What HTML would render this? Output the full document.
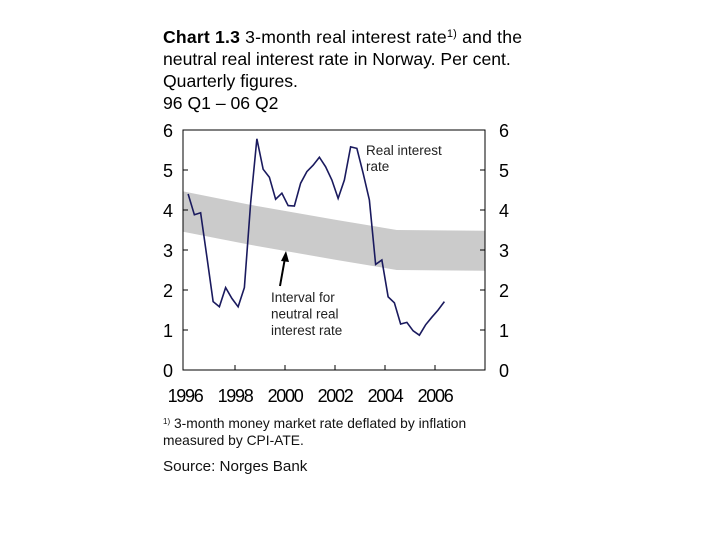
<!DOCTYPE html>
<html><head><meta charset="utf-8"><style>
body{margin:0;background:#fff;}
svg{display:block;font-family:"Liberation Sans",Arial,sans-serif;}
</style></head><body>
<svg id="chart" width="720" height="540">
<text x="163" y="43" font-size="17.6" textLength="359"><tspan font-weight="bold">Chart 1.3</tspan> 3-month real interest rate<tspan font-size="11" dy="-6">1)</tspan><tspan dy="6"> and the</tspan></text>
<text x="163" y="65" font-size="17.6">neutral real interest rate in Norway. Per cent.</text>
<text x="163" y="87" font-size="17.6">Quarterly figures.</text>
<text x="163" y="109" font-size="17.6">96 Q1 – 06 Q2</text>
<g id="plot"></g>
<text x="163" y="428" font-size="13.8" fill="#111"><tspan font-size="8" dy="-4">1)</tspan><tspan dy="4"> 3-month money market rate deflated by inflation</tspan></text>
<text x="163" y="445" font-size="13.8" fill="#111">measured by CPI-ATE.</text>
<text x="163" y="471" font-size="15.2" fill="#111">Source: Norges Bank</text>
</svg>
<script>
const rateValues=[4.40,3.88,3.93,2.83,1.71,1.58,2.06,1.79,1.58,2.06,4.17,5.78,5.02,4.82,4.27,4.42,4.11,4.10,4.67,4.96,5.12,5.32,5.08,4.75,4.29,4.75,5.58,5.54,4.92,4.25,2.64,2.75,1.83,1.68,1.15,1.19,0.98,0.87,1.13,1.32,1.50,1.71];
const bandYears=[1995.9,1998.6,2002.07,2004.47,2008.0];
const bandUpper=[4.47,4.13,3.75,3.50,3.48];
const bandLower=[3.46,3.13,2.75,2.50,2.48];
const yTicks=[0,1,2,3,4,5,6];
const xTickYears=[1996,1998,2000,2002,2004,2006];
const startYear=1996.125;

const NS="http://www.w3.org/2000/svg";
const g=document.getElementById('plot');
const L=183,R=485,T=130,B=370;
const xs=t=>185+(t-1996)*25;
const ys=v=>B-(v/6)*(B-T);
function mk(tag,attrs){const e=document.createElementNS(NS,tag);for(const k in attrs)e.setAttribute(k,attrs[k]);g.appendChild(e);return e;}

let pts=bandYears.map((t,i)=>xs(t)+','+ys(bandUpper[i]));
for(let i=bandYears.length-1;i>=0;i--)pts.push(xs(bandYears[i])+','+ys(bandLower[i]));
const band=mk('polygon',{points:pts.join(' '),fill:'#cbcbcb'});



const frame=mk('rect',{x:L,y:T,width:R-L,height:B-T,fill:'none',stroke:'#000','stroke-width':1});



yTicks.forEach(v=>{
  const y=ys(v);
  if(v>0&&v<6){mk('line',{x1:L,x2:L+5,y1:y,y2:y,stroke:'#000'});mk('line',{x1:R-5,x2:R,y1:y,y2:y,stroke:'#000'});}
  const tl=mk('text',{x:163,y:y+7,'font-size':18});tl.textContent=v;
  
  
  const tr=mk('text',{x:499,y:y+7,'font-size':18});tr.textContent=v;
  
  
});
xTickYears.forEach(yr=>{
  const x=xs(yr);
  if(x>L+2)mk('line',{x1:x,x2:x,y1:B-5,y2:B,stroke:'#000'});
  const t=mk('text',{x:x,y:402,'font-size':18,'text-anchor':'middle','letter-spacing':'-1.3'});t.textContent=yr;
  
  
});

const line=mk('polyline',{points:rateValues.map((v,i)=>xs(startYear+i/4)+','+ys(v)).join(' '),fill:'none',stroke:'#1a1a5e','stroke-width':1.6});



const l1=mk('text',{x:366,y:155,'font-size':13.5,fill:'#222'});l1.textContent='Real interest';


const l2=mk('text',{x:366,y:171,'font-size':13.5,fill:'#222'});l2.textContent='rate';



const arr=mk('line',{x1:280,y1:286,x2:285,y2:258,stroke:'#000','stroke-width':2});


const ah=mk('polygon',{points:'286,251 281,261 289,262',fill:'#000'});


['Interval for','neutral real','interest rate'].forEach((s,i)=>{
  const t=mk('text',{x:271,y:302+i*16.5,'font-size':13.5,fill:'#222'});t.textContent=s;
  
  
});
</script>
</body></html>
